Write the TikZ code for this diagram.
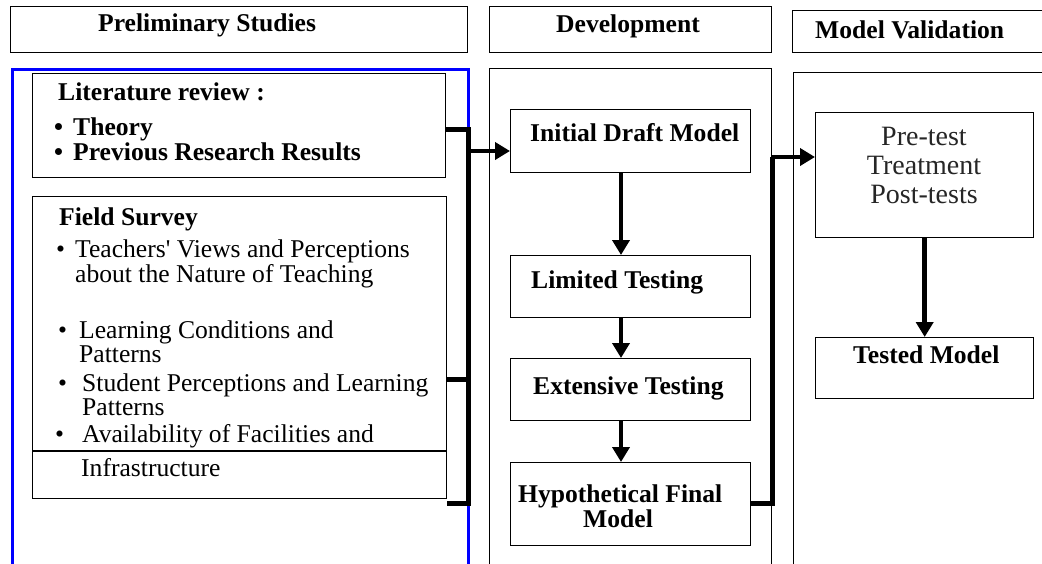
\documentclass[tikz,border=0pt]{standalone}
\usepackage{fontspec}
\setmainfont{Liberation Serif}
\usetikzlibrary{arrows.meta}
\begin{document}
\begin{tikzpicture}[x=1pt,y=-1pt,
  box/.style={draw, line width=1.4pt, inner sep=0pt, anchor=north west},
  txt/.style={anchor=base west, inner sep=0pt, font=\fontsize{25.6}{27}\selectfont},
  btxt/.style={txt, font=\fontsize{25.6}{27}\selectfont\bfseries},
  vtxt/.style={anchor=base, inner sep=0pt, font=\fontsize{28}{29}\selectfont, text=black!85},
  conn/.style={line width=5pt},
  arr/.style={line width=4.5pt, -{Triangle[length=15pt,width=17pt]}},
]
\useasboundingbox (0,0) rectangle (1042,563);
\fill[white] (0,0) rectangle (1042,563);
\clip (0,0) rectangle (1042,563);

% headers
\node[box, minimum width=457pt, minimum height=46pt] (h1) at (10,6) {};
\node[box, minimum width=282pt, minimum height=46pt] (h2) at (489,6) {};
\node[box, minimum width=300pt, minimum height=42pt] (h3) at (792,10) {};
\node[btxt] (h1t) at (98,31) {Preliminary Studies};
\node[btxt] (h2t) at (556,32) {Development};
\node[btxt] (h3t) at (815,38) {Model Validation};

% columns
\node[box, draw=blue, line width=3pt, minimum width=456pt, minimum height=520pt] (colA) at (11,68) {};
\node[box, minimum width=282pt, minimum height=520pt] (colB) at (489,68) {};
\node[box, minimum width=300pt, minimum height=520pt] (colC) at (793,72) {};

% preliminary studies boxes
\node[box, minimum width=413pt, minimum height=104pt] (lit) at (32,73) {};
\node[box, minimum width=414pt, minimum height=302pt] (field) at (32,196) {};
\draw[line width=1.4pt] (32,451) -- (446,451);

\node[btxt] (litt) at (58,100) {Literature review :};
\node[btxt] (b1) at (54,135) {\textbullet};
\node[btxt] (th) at (73,135) {Theory};
\node[btxt] (b2) at (54,160) {\textbullet};
\node[btxt] (prr) at (73,160) {Previous Research Results};

\node[btxt] (fst) at (59,225) {Field Survey};
\node[txt] (b3) at (56,257) {\textbullet};
\node[txt] (f1) at (75,257) {Teachers\textquotesingle{} Views and Perceptions};
\node[txt] (f1b) at (75,282) {about the Nature of Teaching};
\node[txt] (b4) at (58,338) {\textbullet};
\node[txt] (f2) at (79,338) {Learning Conditions and};
\node[txt] (f2b) at (79,362) {Patterns};
\node[txt] (b5) at (58,391) {\textbullet};
\node[txt] (f3) at (82,391) {Student Perceptions and Learning};
\node[txt] (f3b) at (82,415) {Patterns};
\node[txt] (b6) at (55,442) {\textbullet};
\node[txt] (f4) at (82,442) {Availability of Facilities and};
\node[txt] (f4b) at (81,476) {Infrastructure};

% development boxes
\node[box, minimum width=240pt, minimum height=63pt] (d1) at (510,109) {};
\node[box, minimum width=240pt, minimum height=62pt] (d2) at (510,255) {};
\node[box, minimum width=240pt, minimum height=62pt] (d3) at (510,358) {};
\node[box, minimum width=240pt, minimum height=83pt] (d4) at (510,462) {};
\node[btxt] (d1t) at (530,141) {Initial Draft Model};
\node[btxt] (d2t) at (531,288) {Limited Testing};
\node[btxt] (d3t) at (533,394) {Extensive Testing};
\node[btxt] (d4t) at (518,502) {Hypothetical Final};
\node[btxt] (d4u) at (583,527) {Model};

% validation boxes
\node[box, minimum width=218pt, minimum height=125pt] (v1) at (815,112) {};
\node[box, minimum width=218pt, minimum height=61pt] (v2) at (815,337) {};
\node[vtxt] (v1a) at (924,145) {Pre-test};
\node[vtxt] (v1b) at (924,174) {Treatment};
\node[vtxt] (v1c) at (924,203) {Post-tests};
\node[btxt] (v2t) at (853,363) {Tested Model};

% left bracket
\coordinate (j1) at (468,129);
\coordinate (j2) at (468,379);
\coordinate (j3) at (468,503);
\coordinate (a1) at (468,151);
\draw[conn] (lit.east |- j1) -- (j1) -- (j3) -- (field.east |- j3);
\draw[conn] (field.east |- j2) -- (j2);
\draw[arr] (a1) -- (d1.west |- a1);

% development arrows
\coordinate (ax) at (621,0);
\draw[arr] (d1.south -| ax) -- (d2.north -| ax);
\draw[arr] (d2.south -| ax) -- (d3.north -| ax);
\draw[arr] (d3.south -| ax) -- (d4.north -| ax);

% right bracket
\coordinate (k1) at (772,157);
\coordinate (k2) at (772,503);
\draw[conn] (d4.east |- k2) -- (k2) -- (k1);
\draw[arr] (k1) -- (v1.west |- k1);

% validation arrow
\draw[arr] (v1.south) -- (v2.north);
\end{tikzpicture}
\end{document}
